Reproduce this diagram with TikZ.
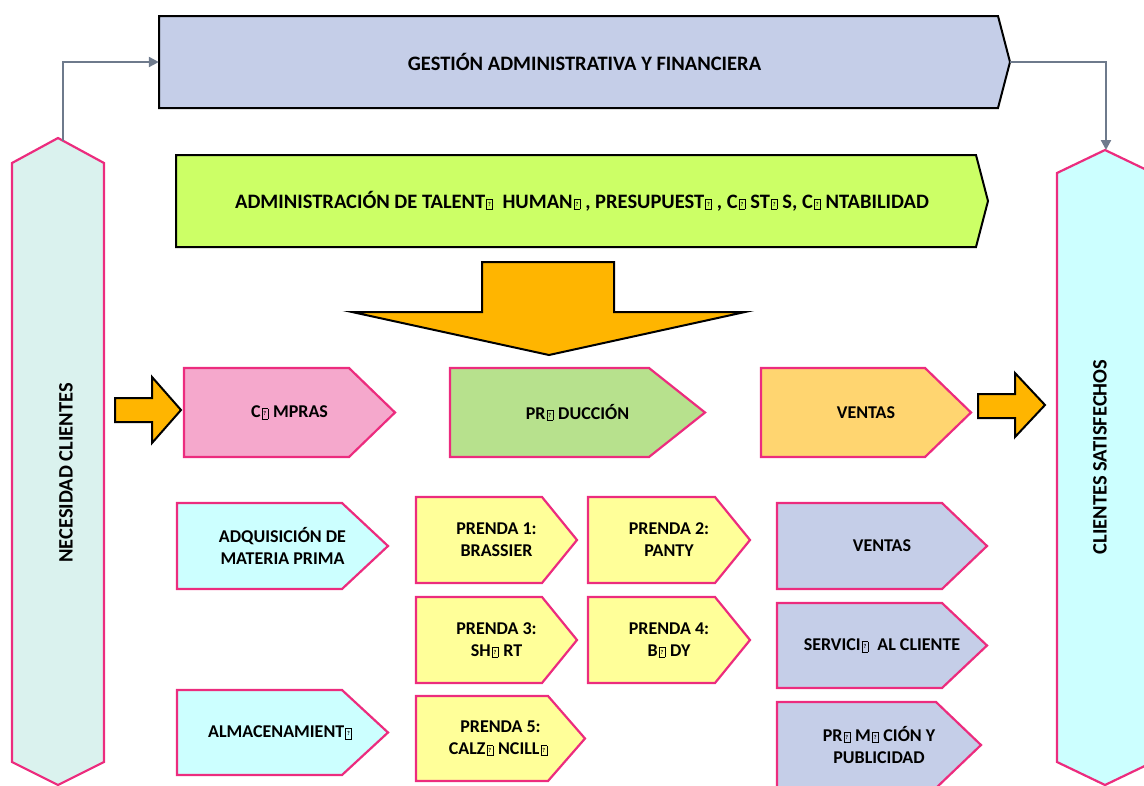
\documentclass[tikz,border=0pt]{standalone}
\usepackage{fontspec}
\setmainfont{Carlito}
\usetikzlibrary{arrows.meta}

\definecolor{rosa}{RGB}{236,44,126}
\definecolor{lavanda}{RGB}{197,206,232}
\definecolor{verdelima}{RGB}{204,255,102}
\definecolor{naranja}{RGB}{255,181,0}
\definecolor{rosaclaro}{RGB}{245,168,204}
\definecolor{verdeclaro}{RGB}{183,225,141}
\definecolor{amarillo}{RGB}{255,213,112}
\definecolor{crema}{RGB}{255,255,153}
\definecolor{celeste}{RGB}{204,255,255}
\definecolor{aguamarina}{RGB}{218,242,238}
\definecolor{gris}{RGB}{110,122,140}

% letra que la fuente no tiene
\newcommand{\nog}{\kern1pt{\setlength{\fboxsep}{0.4pt}\setlength{\fboxrule}{0.6pt}%
	\fbox{\makebox[4.6pt]{\rule[-0.4pt]{0pt}{8.8pt}\raisebox{1.8pt}{\fontsize{6}{6}\selectfont ?}}}}\kern5pt}

% caja con punta: estilo, nombre, x izq, y sup, x fin, x punta, y inf, texto
\newcommand{\caja}[8]{%
	\draw[#1] (#3,#4) -- (#5,#4) -- (#6,{(#4+#7)/2}) -- (#5,#7) -- (#3,#7) -- cycle;
	\node[texto, minimum width=#6-#3, minimum height=#7-#4] (#2) at ({(#3+#6)/2},{(#4+#7)/2}) {#8};
}

\begin{document}
\begin{tikzpicture}[x=1pt,y=-1pt,
	texto/.style={font=\fontsize{18}{22}\selectfont\bfseries, align=center, inner sep=0pt},
	grande/.style={font=\fontsize{20.5}{24}\selectfont\bfseries},
	negro/.style={draw=black, line width=2pt, line join=miter},
	rosado/.style={draw=rosa, line width=2.2pt, line join=miter},
	flujo/.style={draw=gris, line width=2.2pt, -{Triangle[length=10pt,width=10pt]}}]
	\useasboundingbox (0,0) rectangle (1144,785);
	\clip (0,0) rectangle (1144,785);

	% columnas de los lados
	\draw[rosado, fill=aguamarina] (58,138) -- (104,163) -- (104,762) -- (58,785) -- (12,762) -- (12,163) -- cycle;
	\draw[rosado, fill=celeste] (1105,150) -- (1153,173) -- (1153,762) -- (1105,785) -- (1057,762) -- (1057,173) -- cycle;
	\node[texto, grande, rotate=90] (necesidad) at (66,473) {NECESIDAD CLIENTES};
	\node[texto, grande, rotate=90] (satisfechos) at (1100,457) {CLIENTES SATISFECHOS};
	\coordinate (necesidad-punta) at (63,141);
	\coordinate (satisfechos-punta) at (1106,150);

	% bandas de arriba
	\caja{negro, fill=lavanda}{gestion}{159}{16}{998}{1010}{108}{\fontsize{20.5}{24}\selectfont GESTIÓN ADMINISTRATIVA Y FINANCIERA}
	\caja{negro, fill=verdelima}{talento}{176}{155}{976}{988}{247}{\fontsize{20.5}{24}\selectfont ADMINISTRACIÓN DE TALENT\nog{} HUMAN\nog, PRESUPUEST\nog, C\nog{}ST\nog{}S, C\nog{}NTABILIDAD}

	\draw[flujo] (necesidad-punta) |- (gestion.west);
	\draw[flujo] (gestion.east) -| (satisfechos-punta);

	% flecha grande
	\draw[negro, fill=naranja] (482,262) -- (614,262) -- (614,312) -- (745,312) -- (549,355) -- (352,312) -- (482,312) -- cycle;

	% procesos
	\draw[negro, fill=naranja] (115,398) -- (152,398) -- (152,377) -- (181,410) -- (152,443) -- (152,422) -- (115,422) -- cycle;
	\caja{rosado, fill=rosaclaro}{compras}{184}{368}{349}{395}{457}{C\nog{}MPRAS}
	\caja{rosado, fill=verdeclaro}{produccion}{450}{368}{649}{705}{457}{PR\nog{}DUCCIÓN}
	\caja{rosado, fill=amarillo}{ventas}{761}{368}{925}{971}{457}{VENTAS}
	\draw[negro, fill=naranja] (978,394) -- (1015,394) -- (1015,373) -- (1045,405) -- (1015,437) -- (1015,418) -- (978,418) -- cycle;

	% actividades
	\caja{rosado, fill=celeste}{adquisicion}{177}{503}{342}{388}{589}{ADQUISICIÓN DE\\MATERIA PRIMA}
	\caja{rosado, fill=celeste}{almacen}{177}{690}{342}{388}{775}{ALMACENAMIENT\nog}
	\caja{rosado, fill=crema}{prenda1}{416}{497}{542}{577}{583}{PRENDA 1:\\BRASSIER}
	\caja{rosado, fill=crema}{prenda2}{588}{497}{715}{750}{583}{PRENDA 2:\\PANTY}
	\caja{rosado, fill=crema}{prenda3}{416}{597}{542}{577}{683}{PRENDA 3:\\SH\nog{}RT}
	\caja{rosado, fill=crema}{prenda4}{588}{597}{715}{750}{683}{PRENDA 4:\\B\nog{}DY}
	\caja{rosado, fill=crema}{prenda5}{416}{696}{548}{585}{781}{PRENDA 5:\\CALZ\nog{}NCILL\nog}
	\caja{rosado, fill=lavanda}{ventas2}{777}{503}{942}{987}{589}{VENTAS}
	\caja{rosado, fill=lavanda}{servicio}{777}{603}{942}{987}{688}{SERVICI\nog{} AL CLIENTE}
	\caja{rosado, fill=lavanda}{promocion}{777}{702}{936}{981}{788}{PR\nog{}M\nog{}CIÓN Y\\PUBLICIDAD}
\end{tikzpicture}
\end{document}
